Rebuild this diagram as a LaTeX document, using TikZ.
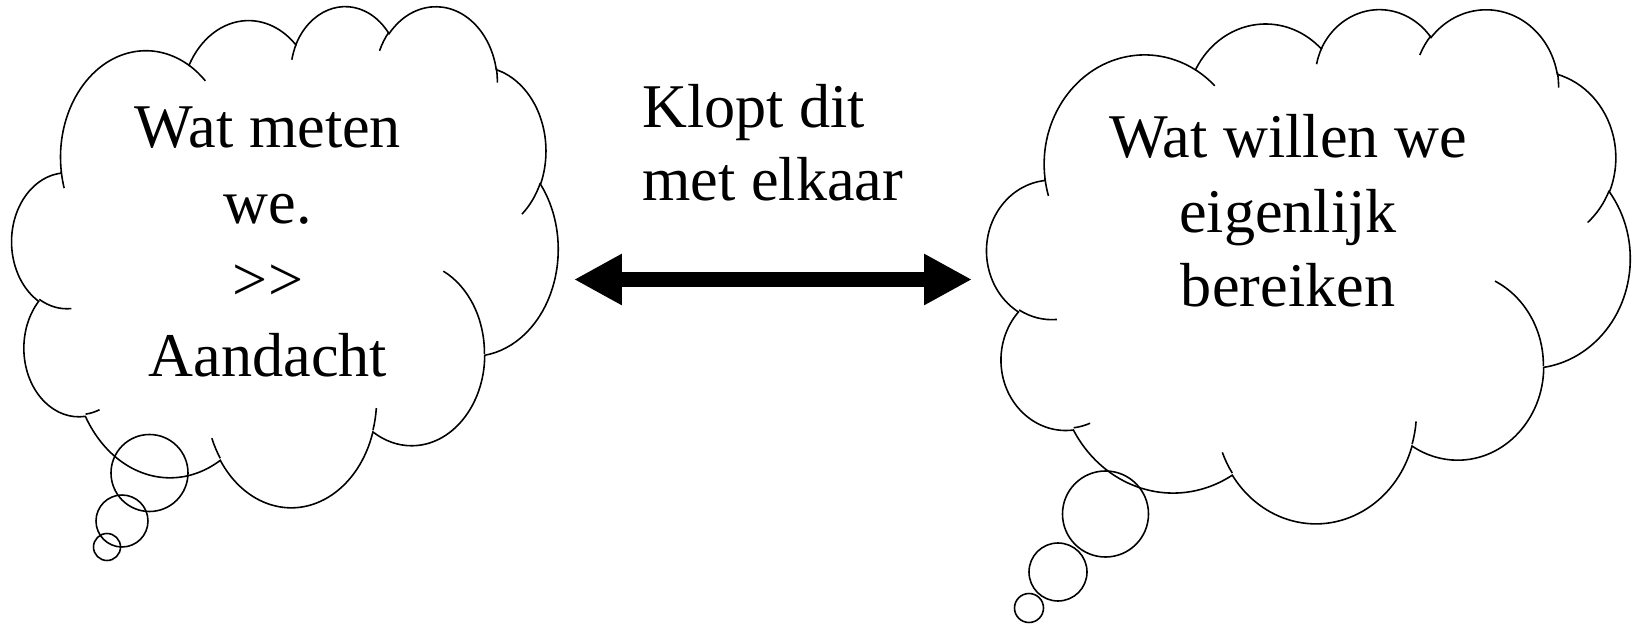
\documentclass[tikz,border=0pt]{standalone}
\usepackage{fontspec}
\setmainfont{Liberation Serif}
\usetikzlibrary{arrows.meta}

\tikzstyle{cloudline} = [line width=0.9pt, draw=black, fill=white]
\tikzstyle{puffline} = [line width=0.9pt, draw=black]
\tikzstyle{bubble} = [line width=0.9pt, draw=black]
\tikzstyle{cloudtext} = [inner sep=0pt, text=black, font=\fontsize{35.4pt}{42.5pt}\selectfont]
\tikzstyle{link} = [line width=8.5pt, {Triangle[length=27.2pt, width=27.2pt]}-{Triangle[length=27.2pt, width=27.2pt]}]

% one puff: radii, start angle and sweep as seen from the centre
\newcommand\puff[4]{arc[x radius=#1, y radius=#2,
  start angle={atan2(#1*sin(#3),#2*cos(#3))},
  delta angle={mod(atan2(#1*sin(#3+#4),#2*cos(#3+#4))-atan2(#1*sin(#3),#2*cos(#3))+720,360)}]}

% cloud in a box: left, top, width, height
\newcommand\thoughtcloud[4]{%
\begin{scope}[shift={(#1,#2)}, x=#3/43.2*0.02cm, y=-#4/43.2*0.02cm]
\draw [cloudline] (3.9,14.37)
  \puff{6.753}{9.19}{-190.4875}{123.7805}
  \puff{5.333}{7.267}{-144.1024}{89.9452}
  \puff{4.365}{5.945}{-145.8079}{99.723}
  \puff{4.857}{6.595}{-130.9861}{117.2417}
  \puff{5.333}{7.273}{-78.7089}{109.0269}
  \puff{6.775}{9.22}{-46.2673}{130.269}
  \puff{5.785}{7.867}{0.625}{114.0333}
  \puff{6.752}{9.215}{22.4516}{115.1726}
  \puff{7.72}{10.543}{66.2426}{75.711}
  \puff{4.36}{5.918}{-274.9421}{146.7356}
  \puff{4.345}{5.945}{-246.8285}{152.5189} -- cycle;
% the small inner strokes
\draw [puffline] (4.693,26.177) \puff{4.345}{5.945}{86.742}{26.4295};
\draw [puffline] (6.928,34.899) \puff{4.36}{5.918}{73.6105}{11.4475};
\draw [puffline] (16.478,39.09) \puff{6.752}{9.215}{137.6242}{14.0811};
\draw [puffline] (28.827,34.751) \puff{6.752}{9.215}{6.4533}{15.9984};
\draw [puffline] (34.129,22.954) \puff{5.785}{7.867}{-70.2924}{70.9174};
\draw [puffline] (41.798,15.354) \puff{5.333}{7.273}{30.318}{27.7515};
\draw [puffline] (38.324,5.426) \puff{4.857}{6.595}{-13.7443}{14.8589};
\draw [puffline] (29.078,3.952) \puff{4.857}{6.595}{-149.1815}{18.1954};
\draw [puffline] (22.141,4.72) \puff{4.365}{5.945}{-163.4943}{17.6864};
\draw [puffline] (14,5.192) \puff{6.753}{9.19}{-66.707}{12.3194};
\draw [puffline] (4.127,15.789) \puff{6.753}{9.19}{157.6544}{11.8582};
\end{scope}}

\begin{document}
\begin{tikzpicture}[x=0.02cm, y=-0.02cm]
\useasboundingbox (0,0) rectangle (1636,624);

% left thought
\thoughtcloud{12}{5}{546}{501}
\draw [bubble] (149.5,473) circle (38.5);
\draw [bubble] (122,521) circle (26);
\draw [bubble] (107,547) circle (13.5);

% right thought
\thoughtcloud{987}{8}{643}{514}
\draw [bubble] (1105.5,514) circle (43);
\draw [bubble] (1058,572) circle (29);
\draw [bubble] (1029,608) circle (14.5);

\node (measure) [cloudtext, align=center, font=\fontsize{35.4pt}{43.5pt}\selectfont] at (268,242) {Wat meten\\we.\\>{}>\\Aandacht};
\node (goal) [cloudtext, align=center, font=\fontsize{35.4pt}{42.5pt}\selectfont] at (1288,211) {Wat willen we\\eigenlijk\\bereiken};
\node (question) [cloudtext, align=left, anchor=west, font=\fontsize{35.4pt}{41.4pt}\selectfont] at (642,143) {Klopt dit\\met elkaar};

\coordinate (from) at (574,279.5);
\coordinate (to) at (972,279.5);
\draw [link] (from) -- (to);

\end{tikzpicture}
\end{document}
